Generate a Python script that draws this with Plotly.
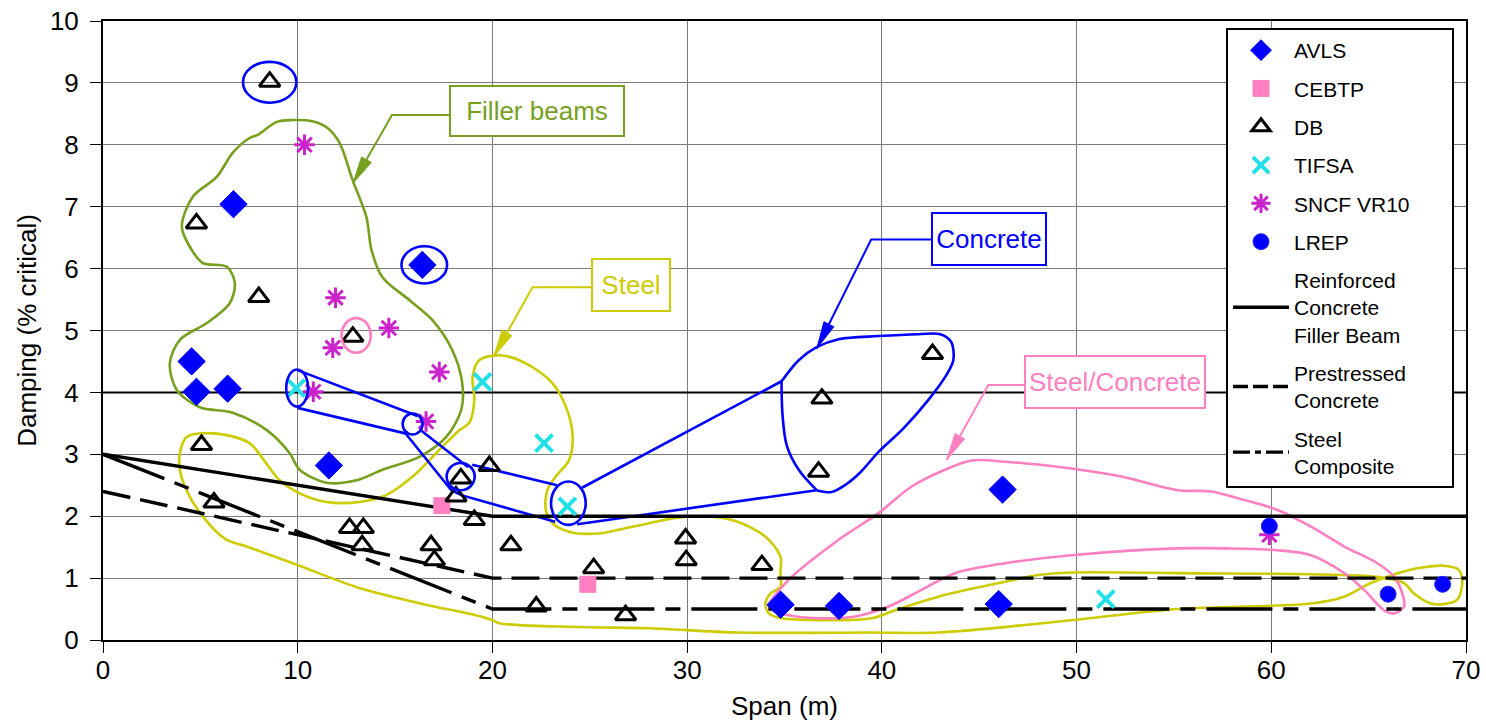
import math
import plotly.graph_objects as go

# ---------------------------------------------------------------- data
# Measured damping (% critical) against span (m), by source
avls_span = [6.7, 16.4, 4.55, 4.8, 6.4, 11.6, 46.2, 34.8, 37.8, 46.0]
avls_damp = [7.04, 6.06, 4.50, 4.01, 4.06, 2.82, 2.43, 0.57, 0.55, 0.58]

cebtp_span = [17.4, 24.9]
cebtp_damp = [2.17, 0.90]

db_span = [8.56, 4.8, 8.0, 12.83, 5.06, 5.7, 18.38, 18.13, 19.07, 19.84,
           12.66, 13.37, 13.31, 16.85, 17.02, 20.95, 22.25, 25.2, 26.84,
           29.92, 29.95, 33.84, 36.92, 36.75, 42.6]
db_damp = [9.02, 6.73, 5.54, 4.90, 3.15, 2.22, 2.61, 2.32, 1.94, 2.81,
           1.81, 1.81, 1.53, 1.53, 1.29, 1.53, 0.54, 1.16, 0.40,
           1.64, 1.29, 1.21, 3.90, 2.72, 4.62]

tifsa_span = [9.92, 19.49, 22.65, 23.85, 51.5]
tifsa_damp = [4.07, 4.17, 3.18, 2.16, 0.66]

sncf_span = [10.35, 11.94, 11.8, 14.68, 10.8, 17.27, 16.59, 59.9]
sncf_damp = [8.00, 5.53, 4.72, 5.04, 4.01, 4.33, 3.53, 1.70]

lrep_span = [59.9, 66.0, 68.8]
lrep_damp = [1.84, 0.74, 0.90]

# Design damping curves (lower bounds)
limit_span = [0, 20, 70]
rc_filler_damp = [3.0, 2.0, 2.0]
prestressed_damp = [2.4, 1.0, 1.0]
steel_comp_damp = [3.0, 0.5, 0.5]

# Reference line drawn across the chart
ref_level = 4.0

# Hand-drawn grouping outlines, in (span, damping) units
filler_outline = [
    (4.05, 6.67), (4.61, 7.16), (5.84, 7.48), (6.66, 7.87), (7.53, 8.11),
    (7.94, 8.16), (8.92, 8.37), (9.74, 8.40), (10.76, 8.38), (11.53, 8.27),
    (12.15, 8.03), (12.82, 7.43), (13.53, 6.83), (13.79, 6.30), (14.35, 5.86),
    (15.74, 5.49), (16.91, 5.17), (17.94, 4.68), (18.45, 4.15), (18.40, 3.72),
    (17.63, 3.28), (16.25, 2.96), (14.35, 2.75), (13.02, 2.58), (11.48, 2.54),
    (10.10, 2.75), (9.58, 3.02), (8.41, 3.39), (6.66, 3.67), (4.97, 3.76),
    (3.79, 4.04), (3.43, 4.47), (3.95, 4.85), (5.33, 5.12), (6.51, 5.44),
    (6.77, 5.77), (6.36, 6.03), (5.13, 6.09), (4.56, 6.30), (4.05, 6.67),
]

steel_outline = [
    (3.95, 3.02), (4.29, 3.28), (5.14, 3.34), (6.34, 3.31), (7.53, 3.18),
    (8.39, 2.85), (9.07, 2.58), (10.10, 2.37), (11.47, 2.23), (13.17, 2.23),
    (14.54, 2.34), (15.90, 2.64), (17.27, 3.07), (18.30, 3.39), (18.81, 3.51),
    (19.07, 3.88), (18.98, 4.25), (19.32, 4.52), (20.35, 4.60), (21.72, 4.47),
    (23.08, 4.15), (23.77, 3.77), (24.11, 3.34), (23.94, 2.91), (23.25, 2.64),
    (22.82, 2.42), (22.74, 2.10), (23.08, 1.89), (23.94, 1.75), (25.47, 1.72),
    (27.18, 1.83), (30.00, 1.99), (32.31, 1.94), (34.02, 1.67), (34.79, 1.35),
    (34.79, 1.08), (34.79, 0.86), (34.27, 0.75), (34.02, 0.59), (34.19, 0.43),
    (34.87, 0.35), (36.92, 0.32), (39.48, 0.35), (40.68, 0.48), (42.90, 0.70),
    (46.32, 0.94), (48.03, 1.05), (49.73, 1.09), (55.20, 1.08), (65.45, 1.02),
    (66.82, 0.92), (67.33, 0.75), (68.19, 0.59), (68.87, 0.58), (69.55, 0.65),
    (69.81, 0.92), (69.64, 1.13), (68.87, 1.20), (67.50, 1.16), (66.50, 1.08),
    (65.11, 0.92), (63.75, 0.70), (62.04, 0.59), (58.62, 0.54), (55.20, 0.50),
    (49.73, 0.32), (42.90, 0.12), (39.48, 0.12), (32.65, 0.12), (28.04, 0.19),
    (24.45, 0.21), (20.35, 0.27), (20.00, 0.32), (19.15, 0.40), (16.59, 0.57),
    (13.17, 0.84), (9.75, 1.24), (7.19, 1.53), (6.34, 1.62), (5.14, 1.99),
    (4.29, 2.42), (3.95, 2.75), (3.95, 3.02),
]

steel_concrete_outline = [
    (34.19, 0.54), (35.21, 0.97), (37.78, 1.62), (39.83, 2.05), (41.53, 2.48),
    (43.24, 2.75), (44.61, 2.90), (46.32, 2.88), (49.73, 2.77), (52.30, 2.64),
    (55.20, 2.42), (56.91, 2.40), (58.62, 2.26), (60.33, 2.10), (62.04, 1.83),
    (63.75, 1.51), (65.45, 1.24), (66.31, 1.02), (66.73, 0.75), (66.82, 0.54),
    (66.31, 0.43), (65.80, 0.48), (64.77, 0.81), (63.75, 1.08), (62.04, 1.37),
    (60.33, 1.45), (57.77, 1.48), (55.20, 1.48), (49.73, 1.37), (46.32, 1.24),
    (43.76, 1.08), (42.04, 0.81), (40.34, 0.54), (38.63, 0.38), (36.92, 0.35),
    (35.21, 0.40), (34.36, 0.48), (34.19, 0.54),
]

concrete_blob = [
    (34.85, 4.18), (35.73, 4.52), (36.65, 4.73), (37.78, 4.86), (39.83, 4.91),
    (41.88, 4.94), (43.00, 4.94), (43.57, 4.81), (43.67, 4.52), (43.31, 4.28),
    (42.39, 3.88), (41.11, 3.42), (39.83, 3.04), (38.90, 2.71), (38.19, 2.52),
    (37.42, 2.39), (36.65, 2.42),
]
concrete_blob_side = [(36.65, 2.42), (35.73, 2.75), (35.11, 3.15), (34.90, 3.63),
                      (34.85, 4.04), (34.85, 4.18)]
concrete_links = [
    [(9.99, 4.36), (16.15, 3.62)],
    [(9.99, 3.75), (15.63, 3.33)],
    [(16.35, 3.38), (18.76, 2.79)],
    [(15.53, 3.34), (17.89, 2.42), (18.40, 2.34), (23.22, 1.91)],
    [(18.96, 2.83), (23.32, 2.50)],
    [(24.60, 2.46), (34.85, 4.18)],
    [(24.35, 1.87), (36.65, 2.42)],
]

# Ring markers: (centre span, centre damping, half width, half height, colour)
BLUE = "#0000ff"
PINK = "#ff80c0"
GREEN = "#76a01e"
YELLOW = "#cccc00"
rings = [
    (8.56, 9.01, 1.37, 0.33, BLUE),
    (16.5, 6.06, 1.17, 0.30, BLUE),
    (13.0, 4.92, 0.75, 0.28, PINK),
    (9.97, 4.07, 0.56, 0.30, BLUE),
    (15.9, 3.49, 0.51, 0.17, BLUE),
    (18.37, 2.64, 0.72, 0.22, BLUE),
    (23.9, 2.21, 0.89, 0.35, BLUE),
]

# Call-out labels: text, colour, box centre, box size (px), leader path
callouts = [
    ("Filler beams", GREEN, 22.29, 8.55, 176, 52,
     [(17.77, 8.48), (14.84, 8.48), (12.84, 7.38)]),
    ("Steel", YELLOW, 27.14, 5.74, 80, 54,
     [(25.12, 5.70), (22.06, 5.70), (20.07, 4.58)]),
    ("Concrete", BLUE, 45.51, 6.48, 116, 54,
     [(42.58, 6.47), (39.45, 6.47), (36.66, 4.71)]),
    ("Steel/Concrete", PINK, 51.95, 4.17, 182, 54,
     [(47.30, 4.12), (45.47, 4.12), (43.33, 2.91)]),
]

# ---------------------------------------------------------------- layout
W, H = 1486, 721
ML, MR, MT, MB = 103, 20, 21, 81
X_RANGE = [0, 70]
Y_RANGE = [0, 10]
PX_X = (W - ML - MR) / (X_RANGE[1] - X_RANGE[0])
PX_Y = (H - MT - MB) / (Y_RANGE[1] - Y_RANGE[0])
FONT = "Liberation Sans, Arial, sans-serif"
OUTLINE_W = 2.6

fig = go.Figure()


def add_path(points, color, width=OUTLINE_W, smooth=True):
    xs, ys = zip(*points)
    fig.add_trace(go.Scatter(
        x=list(xs), y=list(ys), mode="lines",
        line=dict(color=color, width=width,
                  shape="spline" if smooth else "linear", smoothing=0.9),
        hoverinfo="skip", showlegend=False))


# grouping outlines
add_path(filler_outline, GREEN)
add_path(steel_outline, YELLOW)
add_path(steel_concrete_outline, PINK)
add_path(concrete_blob, BLUE)
add_path(concrete_blob_side, BLUE)
for link in concrete_links:
    add_path(link, BLUE, smooth=False)

shapes = []
for cx, cy, rx, ry, col in rings:
    shapes.append(dict(type="circle", xref="x", yref="y",
                       x0=cx - rx, x1=cx + rx, y0=cy - ry, y1=cy + ry,
                       line=dict(color=col, width=OUTLINE_W), layer="above"))

shapes.append(dict(type="line", xref="x", yref="y", x0=X_RANGE[0], x1=X_RANGE[1],
                   y0=ref_level, y1=ref_level, line=dict(color="black", width=2),
                   layer="between"))

annotations = []
for text, col, bx, by, bw, bh, leader in callouts:
    add_path(leader, col, width=2, smooth=False)
    # arrow head at the end of the leader, built in screen proportions
    (x0, y0), (x1, y1) = leader[-2], leader[-1]
    dx, dy = (x1 - x0) * PX_X, (y1 - y0) * PX_Y
    n = math.hypot(dx, dy)
    ux, uy = dx / n, dy / n
    L, hw = 27, 5.5
    bxp, byp = -ux * L, -uy * L
    head = [
        (x1, y1),
        (x1 + (bxp - uy * hw) / PX_X, y1 + (byp + ux * hw) / PX_Y),
        (x1 + (bxp + uy * hw) / PX_X, y1 + (byp - ux * hw) / PX_Y),
        (x1, y1),
    ]
    hx, hy = zip(*head)
    fig.add_trace(go.Scatter(x=list(hx), y=list(hy), mode="lines", fill="toself",
                             fillcolor=col, line=dict(color=col, width=1),
                             hoverinfo="skip", showlegend=False))
    annotations.append(dict(
        x=bx, y=by, xref="x", yref="y", text=text, showarrow=False,
        font=dict(family=FONT, size=26, color=col),
        bgcolor="white", bordercolor=col, borderwidth=2, borderpad=3,
        width=bw - 10, height=bh - 10, align="center", valign="middle"))

# design curves (legend keys use a shorter dash rhythm, as in the key box)
curves = [
    ("Reinforced<br>Concrete<br>Filler Beam", rc_filler_damp, "solid", "solid", "g7"),
    ("Prestressed" + "&nbsp;" * 7 + "<br>Concrete", prestressed_damp,
     "28px,10px", "15px,5px", "g8"),
    ("Steel<br>Composite", steel_comp_damp, "66px,11px,15px,11px",
     "17px,5px,6px,5px", "g9"),
]
for name, damp, dash, key_dash, grp in curves:
    fig.add_trace(go.Scatter(
        x=limit_span, y=damp, mode="lines", name=name, legendgroup=grp,
        showlegend=False, line=dict(color="black", width=3.4, dash=dash)))
    fig.add_trace(go.Scatter(
        x=[None], y=[None], mode="lines", name=name, legendgroup=grp,
        line=dict(color="black", width=3.4, dash=key_dash)))

# measured points
fig.add_trace(go.Scatter(
    x=avls_span, y=avls_damp, mode="markers", name="AVLS", legendgroup="g1",
    marker=dict(symbol="diamond", size=21, color=BLUE,
                line=dict(color=BLUE, width=1))))
fig.add_trace(go.Scatter(
    x=cebtp_span, y=cebtp_damp, mode="markers", name="CEBTP", legendgroup="g2",
    marker=dict(symbol="square", size=16, color=PINK,
                line=dict(color=PINK, width=1))))
fig.add_trace(go.Scatter(
    x=db_span, y=db_damp, mode="markers", name="DB", legendgroup="g3",
    marker=dict(symbol="triangle-up-open", size=18, color="black",
                line=dict(color="black", width=3))))
fig.add_trace(go.Scatter(
    x=tifsa_span, y=tifsa_damp, mode="markers", name="TIFSA", legendgroup="g4",
    marker=dict(symbol="x-thin-open", size=17, color="#22e0e8",
                line=dict(color="#22e0e8", width=4))))
fig.add_trace(go.Scatter(
    x=sncf_span, y=sncf_damp, mode="markers", name="SNCF VR10", legendgroup="g5",
    marker=dict(symbol="asterisk-open", size=17, color="#cc22cc",
                line=dict(color="#cc22cc", width=3))))
fig.add_trace(go.Scatter(
    x=lrep_span, y=lrep_damp, mode="markers", name="LREP", legendgroup="g6",
    marker=dict(symbol="circle", size=16, color=BLUE,
                line=dict(color="#2a2aff", width=1))))

axis_common = dict(
    showline=True, linecolor="black", linewidth=2, mirror=True,
    showgrid=True, gridcolor="#7a7a7a", gridwidth=1,
    ticks="outside", ticklen=11, tickcolor="black", tickwidth=1,
    tickfont=dict(family=FONT, size=26, color="black"),
    zeroline=False, fixedrange=True,
)

fig.update_layout(
    width=W, height=H,
    margin=dict(l=ML, r=MR, t=MT, b=MB, autoexpand=False),
    paper_bgcolor="white", plot_bgcolor="white",
    font=dict(family=FONT, color="black"),
    xaxis=dict(range=X_RANGE, dtick=10, tick0=0, ticklabelstandoff=-5,
               title=dict(text="Span (m)", font=dict(family=FONT, size=26),
                          standoff=14),
               **axis_common),
    yaxis=dict(range=Y_RANGE, dtick=1, tick0=0, ticklabelstandoff=6,
               title=dict(text="Damping (% critical)",
                          font=dict(family=FONT, size=26), standoff=6),
               **axis_common),
    legend=dict(
        x=(1226 - ML) / (W - ML - MR), y=(H - MB - 28) / (H - MT - MB),
        xanchor="left", yanchor="top",
        bgcolor="white", bordercolor="black", borderwidth=2,
        font=dict(family=FONT, size=21, color="black"),
        itemwidth=56, tracegroupgap=8, traceorder="grouped",
        valign="middle",
    ),
    shapes=shapes,
    annotations=annotations,
    showlegend=True,
)

# legend order: sources first, then design curves
order = ["g1", "g2", "g3", "g4", "g5", "g6", "g7", "g8", "g9"]
for tr in fig.data:
    if tr.legendgroup in order:
        tr.legendrank = order.index(tr.legendgroup) + 1

fig.write_html("out.html")
